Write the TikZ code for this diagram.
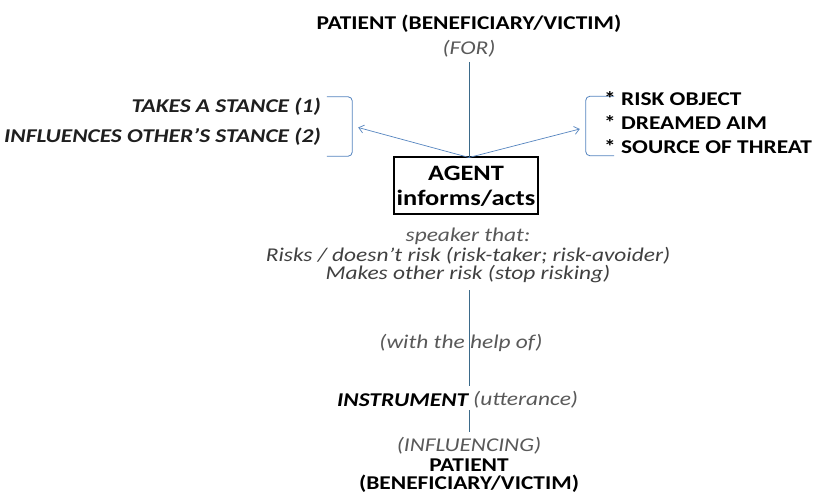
\documentclass[tikz,border=0pt]{standalone}
\usepackage{fontspec}
\setmainfont{Carlito}[FakeStretch=1.2]
\usetikzlibrary{arrows.meta}
\definecolor{lnc}{HTML}{5585C0}
\definecolor{vln}{HTML}{3B6A8A}
\definecolor{gtxt}{HTML}{595959}
\definecolor{dtxt}{HTML}{404040}
\newcommand{\basefs}{\fontsize{19.5}{16}\selectfont}
\tikzset{
  bcap/.style={font=\basefs\bfseries, text=black, inner sep=1pt},
  gital/.style={font=\basefs\itshape, text=gtxt, inner sep=1pt},
  dital/.style={font=\basefs\itshape, text=dtxt, inner sep=1pt},
  bital/.style={font=\basefs\bfseries\itshape, text=black!88, inner sep=1pt},
  agentbox/.style={draw=black, line width=2pt, minimum width=144, minimum height=57,
    align=center, font=\fontsize{22}{25}\selectfont\bfseries, inner sep=0pt},
  ln/.style={draw=vln, line width=0.9pt},
  arr/.style={draw=lnc, line width=0.7pt, -{Straight Barb[length=5pt,width=8pt]}},
  brk/.style={draw=lnc, line width=0.8pt, rounded corners=4pt},
  hold/.style={inner sep=0pt, minimum width=10, minimum height=59}
}
\begin{document}
\begin{tikzpicture}[x=1pt,y=-1pt]
\useasboundingbox[fill=white] (0,0) rectangle (822,497);

% top patient
\node[bcap] (top) at (469,24) {PATIENT (BENEFICIARY/VICTIM)};
\node[gital] (for) at (469,49) {(FOR)};

% agent box
\node[agentbox] (agent) at (466,186) {AGENT\\informs/acts};
\coordinate (apex) at (469,157.5);
\coordinate (ftop) at (469,62);
\draw[ln] (ftop) -- (apex);

% left bracket and texts
\node[hold] (lb) at (347,126.5) {};
\draw[brk] ([xshift=-15pt]lb.north west) -- (lb.north east) -- (lb.south east) -- ([xshift=-15pt]lb.south west);
\node[bital, anchor=east] (t1) at (322,107) {TAKES A STANCE (1)};
\node[bital, anchor=east] (t2) at (322,137) {INFLUENCES OTHER’S STANCE (2)};

% right bracket and texts
\node[hold] (rb) at (591,126) {};
\draw[brk] ([xshift=18pt]rb.north east) -- (rb.north west) -- (rb.south west) -- ([xshift=18pt]rb.south east);
\node[bcap, anchor=west] (r1) at (603,99) {* RISK OBJECT};
\node[bcap, anchor=west] (r2) at (603,123) {* DREAMED AIM};
\node[bcap, anchor=west] (r3) at (603,147) {* SOURCE OF THREAT};

% arrows
\draw[arr] (apex) -- ([xshift=6pt,yshift=-1pt]lb.east);
\draw[arr] (apex) -- ([xshift=-6pt,yshift=-3pt]rb.west);

% speaker lines
\node[gital] (spk) at (468,236) {speaker that:};
\node[dital, align=center] (risks) at (468,265.5)
  {Risks / doesn’t risk (risk-taker; risk-avoider)\\Makes other risk (stop risking)};

% middle line with label
\coordinate (v1) at (469,290);
\coordinate (v2) at (469,386);
\draw[ln] (v1) -- (v2);
\node[gital] (help) at (461,343) {(with the help of)};

% instrument
\node[bital, text=black, anchor=east] (instr) at (469.5,400) {INSTRUMENT};
\node[gital, anchor=west] (utt) at (472,400) {(utterance)};
\coordinate (v3) at (469,410);
\coordinate (v4) at (469,432);
\draw[ln] (v3) -- (v4);

% bottom
\node[bcap, align=center, anchor=north] (bot) at (469,436)
  {{\mdseries\itshape\color{gtxt}(INFLUENCING)}\\[4pt]PATIENT\\[2pt](BENEFICIARY/VICTIM)};
\end{tikzpicture}
\end{document}
